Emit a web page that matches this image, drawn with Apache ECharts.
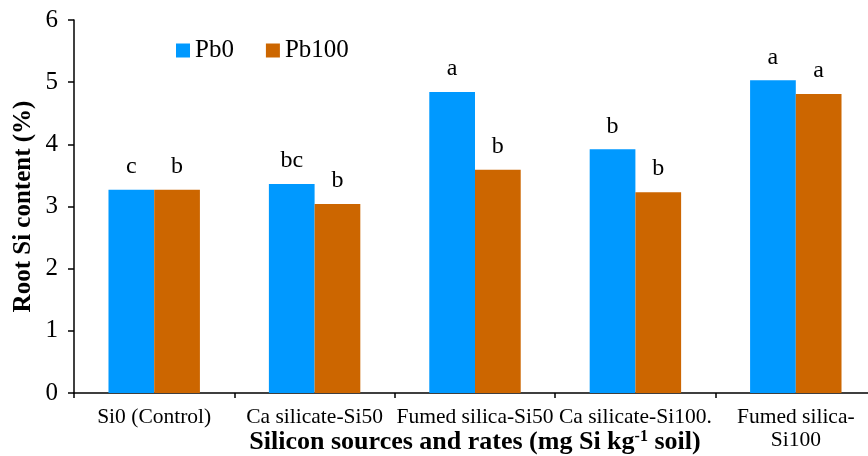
<!DOCTYPE html>
<html>
<head>
<meta charset="utf-8">
<script src="https://cdn.jsdelivr.net/npm/echarts@6/dist/echarts.min.js"></script>
<style>
  html, body { margin: 0; padding: 0; background: #fff; }
  #chart { width: 868px; height: 456px; }
</style>
</head>
<body>
<div id="chart"></div>
<script>
// --- Data ---
const categories = [
  'Si0 (Control)',
  'Ca silicate-Si50',
  'Fumed silica-Si50',
  'Ca silicate-Si100.',
  'Fumed silica-\nSi100',
];
const pb0Values = [3.27, 3.36, 4.84, 3.92, 5.03];
const pb100Values = [3.27, 3.04, 3.59, 3.23, 4.81];
const pb0Letters = ['c', 'bc', 'a', 'b', 'a'];
const pb100Letters = ['b', 'b', 'b', 'b', 'a'];
const yTicks = [0, 1, 2, 3, 4, 5, 6];

const FONT = "'Liberation Serif', 'Times New Roman', serif";

function makeSeries(name, values, letters, color) {
  return {
    name,
    type: 'bar',
    data: values.map((v, i) => ({ value: v, letter: letters[i] })),
    barGap: '0%',
    barCategoryGap: '43%',
    itemStyle: { color },
    label: {
      show: true,
      position: 'top',
      distance: 11,
      fontFamily: FONT,
      fontSize: 24,
      color: '#000',
      formatter: (p) => p.data.letter,
    },
  };
}

const chart = echarts.init(document.getElementById('chart'));
chart.setOption({
  animation: false,
  textStyle: { fontFamily: FONT },
  legend: {
    left: 171,
    top: 33,
    itemWidth: 14,
    itemHeight: 14,
    itemGap: 32,
    icon: 'rect',
    textStyle: { fontFamily: FONT, fontSize: 25, color: '#000' },
    data: ['Pb0', 'Pb100'],
  },
  grid: {
    left: 74,
    top: 20,
    width: 802,
    height: 373,
    outerBoundsMode: 'none',
    containLabel: false,
  },
  xAxis: {
    type: 'category',
    data: categories,
    axisLine: { lineStyle: { color: '#000', width: 1.5 } },
    axisTick: { show: true, length: 5, lineStyle: { color: '#000', width: 1.5 } },
    axisLabel: {
      margin: 13,
      fontFamily: FONT,
      fontSize: 21.5,
      color: '#000',
      lineHeight: 23,
      interval: 0,
    },
    name: '{b|Silicon sources and rates (mg Si kg}{s|-1}{b| soil)}',
    nameLocation: 'middle',
    nameMoveOverlap: false,
    nameGap: 36,
    nameTextStyle: {
      rich: {
        b: { fontFamily: FONT, fontSize: 26, fontWeight: 'bold', color: '#000' },
        s: { fontFamily: FONT, fontSize: 16, fontWeight: 'bold', color: '#000', verticalAlign: 'top', padding: [0, 0, 10, 0] },
      },
    },
  },
  yAxis: {
    type: 'value',
    min: yTicks[0],
    max: yTicks[yTicks.length - 1],
    interval: 1,
    splitLine: { show: false },
    axisLine: { show: true, lineStyle: { color: '#000', width: 1.5 } },
    axisTick: { show: true, length: 6, lineStyle: { color: '#000', width: 1.5 } },
    axisLabel: { margin: 16, fontFamily: FONT, fontSize: 25, color: '#000' },
    name: 'Root Si content (%)',
    nameLocation: 'middle',
    nameMoveOverlap: false,
    nameRotate: 90,
    nameGap: 38,
    nameTextStyle: { fontFamily: FONT, fontSize: 25, fontWeight: 'bold', color: '#000' },
  },
  series: [
    makeSeries('Pb0', pb0Values, pb0Letters, '#0099FF'),
    makeSeries('Pb100', pb100Values, pb100Letters, '#CC6600'),
  ],
});
</script>
</body>
</html>
